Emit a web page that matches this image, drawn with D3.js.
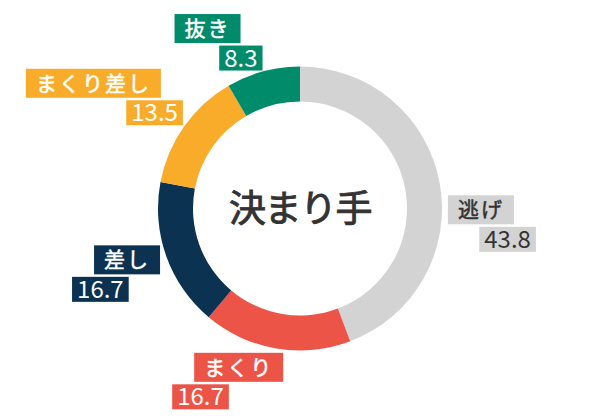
<!DOCTYPE html>
<html>
<head>
<meta charset="utf-8">
<script src="https://cdn.jsdelivr.net/npm/d3@7"></script>
<style>
  html, body { margin: 0; padding: 0; background: #fff; }
  svg text { font-family: "Noto Sans CJK JP", "Noto Sans", sans-serif; }
</style>
</head>
<body>
<div id="chart"></div>
<script>
// data
const categories = ["逃げ", "まくり", "差し", "まくり差し", "抜き"];
const values = [43.8, 16.7, 16.7, 13.5, 8.3];
const colors = ["#d3d3d3", "#eb5447", "#0b3251", "#f9ac29", "#008b6a"];
const textColors = ["#333333", "#ffffff", "#ffffff", "#ffffff", "#ffffff"];
const title = "決まり手";

// label layout: which side the name box hangs from, and a nudge off the arc centroid
const labelAlign = ["end", "start", "start", "end", "end"];
const labelNudge = [[27, 50], [-74, -14], [-27, 2], [16, -1], [-10, 18]];

const width = 600, height = 420;
const cx = 300, cy = 208.5;
const outerR = 142, innerR = 107, labelR = 190;

const svg = d3.select("#chart")
  .append("svg")
  .attr("width", width)
  .attr("height", height);

const g = svg.append("g")
  .attr("transform", "translate(" + cx + "," + cy + ")");

const pie = d3.pie().sort(null).value(d => d);
const arcs = pie(values);

const arc = d3.arc().innerRadius(innerR).outerRadius(outerR);
const labelArc = d3.arc().innerRadius(labelR).outerRadius(labelR);

g.selectAll("path.slice")
  .data(arcs)
  .join("path")
  .attr("class", "slice")
  .attr("d", arc)
  .attr("fill", (d, i) => colors[i]);

// center title (a thin stroke thickens the regular weight a bit)
g.append("text")
  .attr("text-anchor", "middle")
  .attr("dy", "0.36em")
  .attr("font-size", 37)
  .attr("letter-spacing", -1.5)
  .attr("fill", "#333")
  .attr("stroke", "#333")
  .attr("stroke-width", 0.9)
  .text(title);

// labels
const nameH = 29, valueH = 25, gap = 2.5, pad = 10, vpad = 5, shift = 22;

arcs.forEach((a, i) => {
  const c = labelArc.centroid(a);
  const px = c[0] + labelNudge[i][0];
  const py = c[1] + labelNudge[i][1];
  const lg = g.append("g");

  // name
  const nameText = lg.append("text")
    .attr("font-size", 21)
    .attr("letter-spacing", 2)
    .attr("fill", textColors[i])
    .attr("stroke", textColors[i])
    .attr("stroke-width", 0.5)
    .text(categories[i]);
  const nw = nameText.node().getComputedTextLength() + pad * 2;
  const nx = labelAlign[i] === "end" ? px - nw : px;
  lg.insert("rect", "text")
    .attr("x", nx).attr("y", py - nameH)
    .attr("width", nw).attr("height", nameH)
    .attr("fill", colors[i]);
  nameText.attr("x", nx + pad).attr("y", py - nameH / 2).attr("dy", "0.36em");

  // value
  const valText = lg.append("text")
    .attr("font-family", "Lato, sans-serif")
    .attr("font-size", 24)
    .attr("fill", textColors[i])
    .text(values[i].toFixed(1));
  const vw = valText.node().getComputedTextLength() + vpad * 2;
  const vx = labelAlign[i] === "end" ? px + shift - vw : px - shift;
  lg.insert("rect", "text:last-child")
    .attr("x", vx).attr("y", py + gap)
    .attr("width", vw).attr("height", valueH)
    .attr("fill", colors[i]);
  valText.attr("x", vx + vpad).attr("y", py + gap + valueH / 2).attr("dy", "0.36em");
});
</script>
</body>
</html>
